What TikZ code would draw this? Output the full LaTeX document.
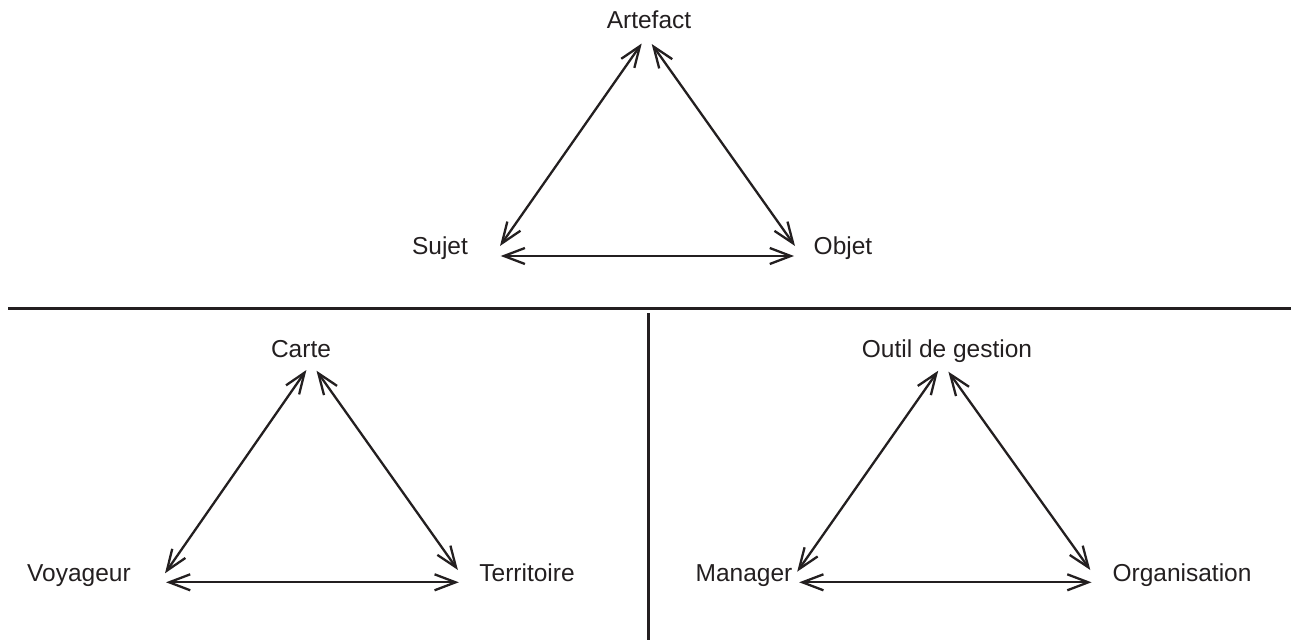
\documentclass[tikz,border=0pt]{standalone}
\usepackage{fontspec}
\setmainfont{Liberation Sans}
\usetikzlibrary{arrows.meta}
\definecolor{ink}{HTML}{231F20}
\tikzset{
  lbl/.style={anchor=base, inner sep=0pt, text=ink, font=\fontsize{24.5}{28}\selectfont},
  link/.style={draw=ink, line width=2.3pt,
    {Straight Barb[length=21pt,width=16pt,line width=2.3pt]}-{Straight Barb[length=21pt,width=16pt,line width=2.3pt]}},
  rule/.style={draw=ink, line width=3pt}
}
\begin{document}
\begin{tikzpicture}[x=1pt,y=-1pt]
\useasboundingbox (0,0) rectangle (1291,640);

% ---- top triangle: Artefact / Sujet / Objet
\node[lbl] (artefact) at (649,28.3) {Artefact};
\node[lbl] (sujet) at (440,254) {Sujet};
\node[lbl] (objet) at (843,254) {Objet};
\coordinate (a1) at (641.7,43.5);
\coordinate (a2) at (651.7,44);
\coordinate (s1) at (500,246);
\coordinate (s2) at (500.7,256);
\coordinate (o1) at (795,246);
\coordinate (o2) at (794,256);
\draw[link] (s1) -- (a1);
\draw[link] (a2) -- (o1);
\draw[link] (s2) -- (o2);

% ---- separators
\coordinate (hl) at (8,308.3);
\coordinate (hr) at (1291,308.3);
\coordinate (vt) at (648,313);
\coordinate (vb) at (648,640);
\draw[rule] (hl) -- (hr);
\draw[rule] (vt) -- (vb);

% ---- bottom left triangle: Carte / Voyageur / Territoire
\node[lbl] (carte) at (301,357) {Carte};
\node[lbl] (voyageur) at (79,581) {Voyageur};
\node[lbl] (territoire) at (527,581) {Territoire};
\coordinate (c1) at (306.4,370);
\coordinate (c2) at (316.5,370.7);
\coordinate (v1) at (165,573.3);
\coordinate (v2) at (166,582.3);
\coordinate (t1) at (457.9,570);
\coordinate (t2) at (458.8,582.3);
\draw[link] (v1) -- (c1);
\draw[link] (c2) -- (t1);
\draw[link] (v2) -- (t2);

% ---- bottom right triangle: Outil de gestion / Manager / Organisation
\node[lbl] (outil) at (947,357) {Outil de gestion};
\node[lbl] (manager) at (744,581) {Manager};
\node[lbl] (organisation) at (1182,581) {Organisation};
\coordinate (g1) at (938.2,370.7);
\coordinate (g2) at (948.4,371.7);
\coordinate (m1) at (797.2,571.7);
\coordinate (m2) at (799.2,582.3);
\coordinate (r1) at (1090.3,570);
\coordinate (r2) at (1091.5,582.3);
\draw[link] (m1) -- (g1);
\draw[link] (g2) -- (r1);
\draw[link] (m2) -- (r2);
\end{tikzpicture}
\end{document}
